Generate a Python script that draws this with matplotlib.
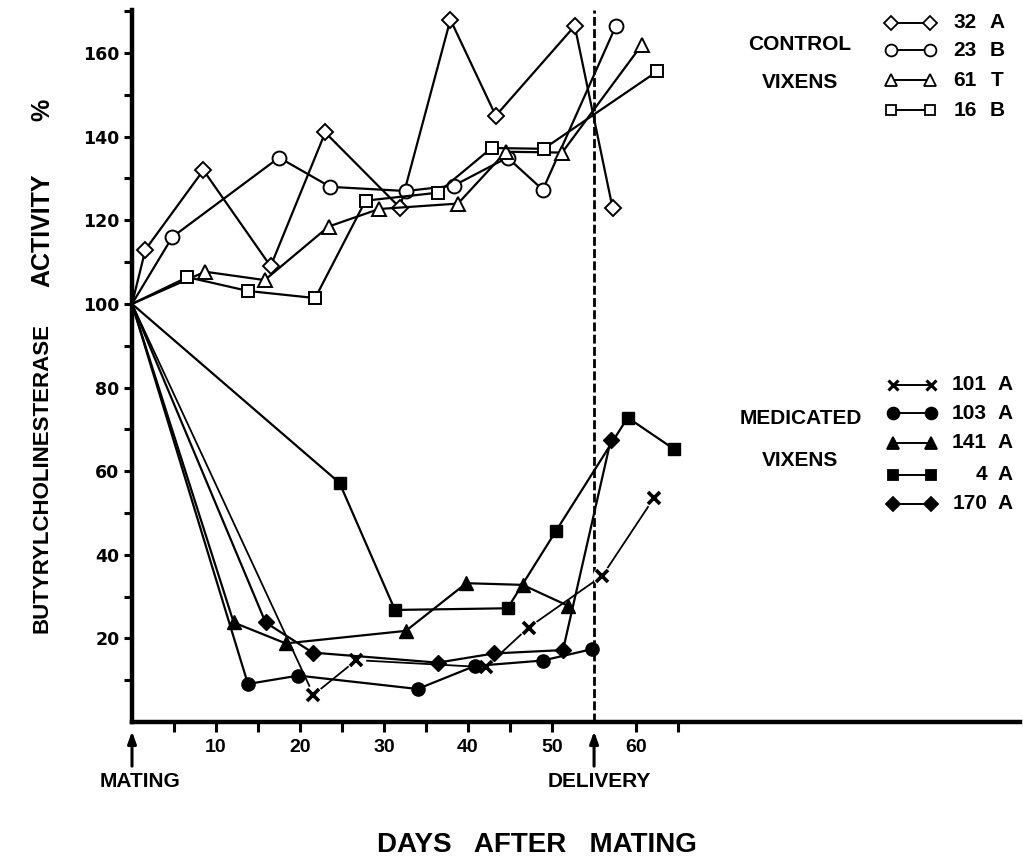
import matplotlib
matplotlib.use('Agg')
import matplotlib.pyplot as plt
from matplotlib.lines import Line2D

plt.rcParams['font.family'] = ['Liberation Sans', 'DejaVu Sans']
plt.rcParams['font.weight'] = 'bold'

# control vixens (open symbols)
days_32a = [0, 1.6, 8.5, 16.5, 23, 31.9, 37.9, 43.3, 52.7, 57.2]
vals_32a = [100, 113, 132, 109, 141, 123, 168, 145, 166.5, 123]
days_23b = [0, 4.8, 17.5, 23.6, 32.6, 38.3, 44.7, 48.9, 57.6]
vals_23b = [100, 116, 135, 128, 127, 128.3, 135, 127.3, 166.5]
days_61t = [0, 8.7, 15.8, 23.4, 29.4, 38.8, 44.5, 51.2, 60.7]
vals_61t = [100, 107.7, 105.7, 118.5, 122.7, 124, 136.4, 136.2, 162]
days_16b = [0, 6.6, 13.8, 21.8, 27.8, 36.4, 42.8, 49, 62.5]
vals_16b = [100, 106.4, 103.1, 101.4, 124.7, 126.6, 137.3, 137.1, 155.6]

# medicated vixens (filled symbols)
days_101a = [0, 21.6, 26.7, 42.1, 47.2, 56, 62.1]
vals_101a = [100, 6.5, 14.8, 13.1, 22.6, 35, 53.5]
days_103a = [0, 13.8, 19.8, 34, 40.8, 48.9, 54.7]
vals_103a = [100, 9.1, 11.1, 7.9, 13.4, 14.7, 17.4]
days_141a = [0, 12.1, 18.3, 32.6, 39.8, 46.5, 51.9]
vals_141a = [100, 23.8, 18.8, 21.8, 33.2, 32.8, 27.8]
days_4a = [0, 24.7, 31.3, 44.7, 50.5, 59, 64.5]
vals_4a = [100, 57.2, 26.8, 27.2, 45.8, 72.8, 65.3]
days_170a = [0, 15.9, 21.5, 36.4, 43.1, 51.3, 57]
vals_170a = [100, 23.8, 16.6, 14.2, 16.4, 17.2, 67.5]

delivery_day = 55
x_labels = [10, 20, 30, 40, 50, 60]
x_minor = [5, 15, 25, 35, 45, 65]
y_labels = [20, 40, 60, 80, 100, 120, 140, 160]
y_minor = [10, 30, 50, 70, 90, 110, 130, 150, 170]

control_names = [('32', 'A'), ('23', 'B'), ('61', 'T'), ('16', 'B')]
medicated_names = [('101', 'A'), ('103', 'A'), ('141', 'A'), ('4', 'A'), ('170', 'A')]

fig = plt.figure(figsize=(10.23, 8.57), dpi=100)
ax = fig.add_axes([132 / 1023, 135 / 857, 888 / 1023, 712 / 857])

lw = 1.6
k = 'black'
open_kw = dict(color=k, lw=lw, mfc='white', mec=k, mew=1.4, zorder=3)
ax.plot(days_32a, vals_32a, marker='D', ms=8.5, markevery=list(range(1, len(days_32a))), **open_kw)
ax.plot(days_23b, vals_23b, marker='o', ms=10, markevery=list(range(1, len(days_23b))), **open_kw)
ax.plot(days_61t, vals_61t, marker='^', ms=10, markevery=list(range(1, len(days_61t))), **open_kw)
ax.plot(days_16b, vals_16b, marker='s', ms=8.5, markevery=list(range(1, len(days_16b))), **open_kw)

fill_kw = dict(color=k, lw=lw, mfc=k, mec=k, zorder=3)
ax.plot(days_103a, vals_103a, marker='o', ms=9.5, markevery=list(range(1, len(days_103a))), **fill_kw)
ax.plot(days_141a, vals_141a, marker='^', ms=10, markevery=list(range(1, len(days_141a))), **fill_kw)
ax.plot(days_4a, vals_4a, marker='s', ms=8, markevery=list(range(1, len(days_4a))), **fill_kw)
ax.plot(days_170a, vals_170a, marker='D', ms=8, markevery=list(range(1, len(days_170a))), **fill_kw)

# 101 A: line broken around the x marks
ax.plot(days_101a, vals_101a, color=k, lw=1.3, zorder=2)
ax.plot(days_101a[1:], vals_101a[1:], ls='none', marker='o', ms=13, mfc='white', mec='white', zorder=2.1)
ax.plot(days_101a[1:], vals_101a[1:], ls='none', marker='x', ms=8, mec=k, mew=2.6, zorder=2.2)

ax.axvline(delivery_day, ymin=0, ymax=1, color=k, lw=2, dashes=(3.2, 1.2), zorder=1)

ax.set_xlim(0, 105.7)
ax.set_ylim(0, 170.3)
for s in ['top', 'right']:
    ax.spines[s].set_visible(False)
for s in ['left', 'bottom']:
    ax.spines[s].set_linewidth(3.2)

ax.set_xticks(x_labels)
ax.set_xticks(x_minor, minor=True)
ax.set_yticks(y_labels)
ax.set_yticks(y_minor, minor=True)
ax.tick_params(axis='x', which='both', direction='out', length=7, width=2.2, pad=5, labelsize=14)
ax.tick_params(axis='y', which='both', direction='out', length=6, width=2.2, pad=3)
for t in ax.get_yticklabels():
    t.set_fontfamily('DejaVu Sans')
    t.set_fontweight('bold')
    t.set_fontsize(12.5)
for t in ax.get_xticklabels():
    t.set_fontweight('bold')

# arrows under the axis
for d in [0, delivery_day]:
    ax.annotate('', xy=(d, -0.013), xytext=(d, -0.062),
                xycoords=('data', 'axes fraction'),
                arrowprops=dict(arrowstyle='-|>,head_length=0.7,head_width=0.25',
                                color=k, lw=2.2, shrinkA=0, shrinkB=0),
                annotation_clip=False)
ax.text(1.0, -0.083, 'MATING', transform=ax.get_xaxis_transform(), ha='center', va='center',
        fontsize=15, fontweight='bold')
ax.text(55.6, -0.083, 'DELIVERY', transform=ax.get_xaxis_transform(), ha='center', va='center',
        fontsize=15, fontweight='bold')

fig.text(537 / 1023, 1 - 845 / 857, 'DAYS   AFTER   MATING', ha='center', va='center',
         fontsize=20, fontweight='bold')

# y axis title, in three pieces as in the original lettering
fig.text(42 / 1023, 1 - 478 / 857, 'BUTYRYLCHOLINESTERASE', rotation=90,
         ha='center', va='center', fontsize=16, fontweight='bold')
fig.text(42 / 1023, 1 - 230 / 857, 'ACTIVITY', rotation=90,
         ha='center', va='center', fontsize=18, fontweight='bold')
fig.text(42 / 1023, 1 - 110 / 857, '%', rotation=90,
         ha='center', va='center', fontsize=18, fontweight='bold')


def fx(px):
    return px / 1023


def fy(py):
    return 1 - py / 857


# control legend
ctrl_styles = [('D', 7.5), ('o', 8.5), ('^', 8.5), ('s', 7)]
ctrl_rows = [23, 50, 80, 110]
for (num, let), (mk, ms), row in zip(control_names, ctrl_styles, ctrl_rows):
    fig.add_artist(Line2D([fx(891), fx(930)], [fy(row), fy(row)], color=k, lw=1.4,
                          marker=mk, ms=ms, mfc='white', mec=k, mew=1.3))
    fig.text(fx(977), fy(row), num, ha='right', va='center', fontsize=15, fontweight='bold')
    fig.text(fx(997), fy(row), let, ha='center', va='center', fontsize=15, fontweight='bold')
fig.text(fx(800), fy(44), 'CONTROL', ha='center', va='center', fontsize=15, fontweight='bold')
fig.text(fx(800), fy(83), 'VIXENS', ha='center', va='center', fontsize=15, fontweight='bold')

# medicated legend
med_styles = [('x', 7), ('o', 8.5), ('^', 9), ('s', 7.5), ('D', 7.5)]
med_rows = [385, 413, 443, 475, 504]
for (num, let), (mk, ms), row in zip(medicated_names, med_styles, med_rows):
    mew = 2.2 if mk == 'x' else 1.3
    fig.add_artist(Line2D([fx(893), fx(931)], [fy(row), fy(row)], color=k, lw=1.4,
                          marker=mk, ms=ms, mfc=k, mec=k, mew=mew))
    fig.text(fx(987), fy(row), num, ha='right', va='center', fontsize=15, fontweight='bold')
    fig.text(fx(1005), fy(row), let, ha='center', va='center', fontsize=15, fontweight='bold')
fig.text(fx(801), fy(418), 'MEDICATED', ha='center', va='center', fontsize=15, fontweight='bold')
fig.text(fx(800), fy(460), 'VIXENS', ha='center', va='center', fontsize=15, fontweight='bold')

fig.savefig('out.png', dpi=100)
